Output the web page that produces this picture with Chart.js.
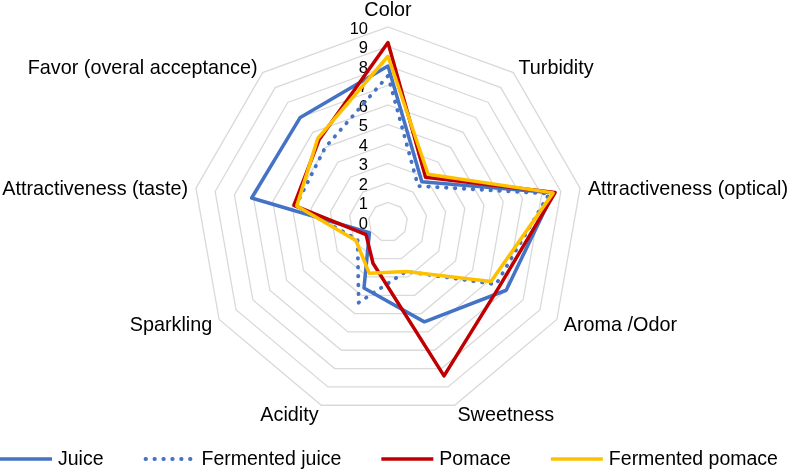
<!DOCTYPE html>
<html>
<head>
<meta charset="utf-8">
<script src="https://cdn.jsdelivr.net/npm/chart.js@4.4.1/dist/chart.umd.min.js"></script>
<style>
  html, body { margin: 0; padding: 0; background: #fff; }
  #wrap { width: 787px; height: 470px; }
</style>
</head>
<body>
<div id="wrap"><canvas id="radar" width="787" height="470"></canvas></div>
<script>
const attributes = ["Color", "Turbidity", "Attractiveness (optical)", "Aroma /Odor", "Sweetness",
  "Acidity", "Sparkling", "Attractiveness (taste)", "Favor (overal acceptance)"];
const juice = [8.0, 2.7, 8.6, 7.0, 5.45, 3.6, 1.1, 7.1, 7.0];
const fermentedJuice = [7.5, 2.4, 8.4, 6.4, 2.7, 4.4, 1.8, 4.8, 5.0];
const pomace = [9.2, 3.0, 8.7, 6.6, 8.4, 2.25, 1.3, 4.9, 5.5];
const fermentedPomace = [8.5, 3.2, 8.6, 6.1, 2.7, 2.8, 1.9, 4.75, 5.6];
const tickLabels = ["0", "1", "2", "3", "4", "5", "6", "7", "8", "9", "10"];

const FONT = '"Liberation Sans", Arial, sans-serif';

// axis numbers sit left of the top spoke, category names just outside the outer ring
const axisText = {
  id: "axisText",
  beforeDatasetsDraw(chart) {
    const r = chart.scales.r;
    const ctx = chart.ctx;
    ctx.save();
    ctx.fillStyle = "#000";
    ctx.textBaseline = "middle";
    ctx.textAlign = "right";
    ctx.font = "16.5px " + FONT;
    tickLabels.forEach((t) => {
      const y = r.yCenter - r.getDistanceFromCenterForValue(Number(t));
      ctx.fillText(t, r.xCenter - 20, y + 2);
    });
    ctx.font = "19.8px " + FONT;
    attributes.forEach((name, i) => {
      const dx = r.getPointPosition(i, r.drawingArea).x - r.xCenter;
      if (Math.abs(dx) < 1) {
        const p = r.getPointPosition(i, r.drawingArea + 7);
        ctx.textAlign = "center";
        ctx.textBaseline = "bottom";
        ctx.fillText(name, p.x, p.y);
      } else {
        const p = r.getPointPosition(i, r.drawingArea + 8);
        ctx.textAlign = dx > 0 ? "left" : "right";
        ctx.textBaseline = "middle";
        ctx.fillText(name, p.x, p.y + 2.5);
      }
    });
    ctx.restore();
  }
};

// one-row legend like the spreadsheet one (line sample + name)
const lineLegend = {
  id: "lineLegend",
  afterDraw(chart) {
    const ctx = chart.ctx;
    const y = 459;
    let x = 0;
    ctx.save();
    ctx.font = "19.5px " + FONT;
    ctx.textBaseline = "middle";
    ctx.textAlign = "left";
    ctx.fillStyle = "#000";
    chart.data.datasets.forEach((ds) => {
      ctx.strokeStyle = ds.borderColor;
      ctx.lineWidth = ds.borderWidth;
      ctx.lineCap = ds.borderCapStyle || "butt";
      ctx.setLineDash(ds.borderDash || []);
      ctx.beginPath();
      ctx.moveTo(x + (ds.borderDash ? 2 : 0), y);
      ctx.lineTo(x + 52, y);
      ctx.stroke();
      ctx.setLineDash([]);
      ctx.fillText(ds.label, x + 58, y + 1);
      x += 58 + ctx.measureText(ds.label).width + 40;
    });
    ctx.restore();
  }
};

new Chart(document.getElementById("radar"), {
  type: "radar",
  data: {
    labels: attributes,
    datasets: [
      { label: "Juice", data: juice, borderColor: "#4472C4", borderWidth: 3.5, order: 3 },
      { label: "Fermented juice", data: fermentedJuice, borderColor: "#4472C4", borderWidth: 3.8,
        borderDash: [0.5, 8.4], borderCapStyle: "round", order: 2 },
      { label: "Pomace", data: pomace, borderColor: "#C00000", borderWidth: 3.5, order: 1 },
      { label: "Fermented pomace", data: fermentedPomace, borderColor: "#FFC000", borderWidth: 3.5, order: 0 }
    ]
  },
  options: {
    responsive: false,
    animation: false,
    layout: { padding: { top: 27, bottom: 53, left: 0, right: 10 } },
    elements: {
      line: { tension: 0, fill: false, borderJoinStyle: "round" },
      point: { radius: 0, hoverRadius: 0 }
    },
    scales: {
      r: {
        min: 0,
        max: 10,
        ticks: { stepSize: 1, display: false },
        pointLabels: { display: false },
        angleLines: { display: false },
        grid: { color: "#d9d9d9", lineWidth: 1.3 }
      }
    },
    plugins: {
      legend: { display: false },
      tooltip: { enabled: false }
    }
  },
  plugins: [axisText, lineLegend]
});
</script>
</body>
</html>
